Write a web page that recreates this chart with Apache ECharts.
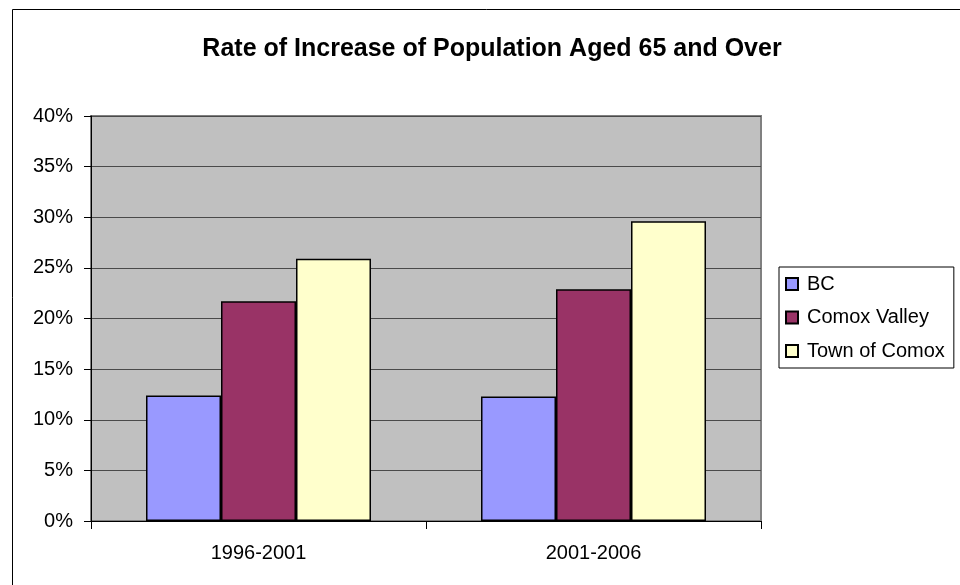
<!DOCTYPE html>
<html>
<head>
<meta charset="utf-8">
<script src="https://cdn.jsdelivr.net/npm/echarts@6/dist/echarts.min.js"></script>
<style>
  html, body { margin: 0; padding: 0; background: #fff; }
  #chart { width: 960px; height: 585px; }
</style>
</head>
<body>
<div id="chart"></div>
<script>
// Periods on the category axis
const periods = ['1996-2001', '2001-2006'];
// Rate of increase (%) of the population aged 65+, per area
const bcValues = [12.4, 12.3];
const comoxValleyValues = [21.7, 22.9];
const townOfComoxValues = [25.9, 29.6];
// Value axis settings (percent)
const yMin = 0;
const yMax = 40;
const yStep = 5;

const FONT = '"Liberation Sans", Arial, sans-serif';

const chart = echarts.init(document.getElementById('chart'), null, { renderer: 'canvas' });

const barBorder = { borderColor: '#000', borderWidth: 1.5 };

chart.setOption({
  animation: false,
  backgroundColor: '#fff',
  title: {
    text: 'Rate of Increase of Population Aged 65 and Over',
    left: 487,
    textAlign: 'center',
    top: 32,
    textStyle: { fontFamily: FONT, fontSize: 25, fontWeight: 'bold', color: '#000' }
  },
  legend: {
    orient: 'vertical',
    left: 779,
    top: 267,
    padding: [7, 9, 7, 6],
    itemGap: 13.5,
    itemWidth: 12,
    itemHeight: 12,
    icon: 'rect',
    borderColor: '#000',
    borderWidth: 1,
    backgroundColor: '#fff',
    textStyle: { fontFamily: FONT, fontSize: 20, color: '#000', padding: [0, 0, 0, 4] },
    data: ['BC', 'Comox Valley', 'Town of Comox']
  },
  grid: {
    left: 91,
    right: 199,
    top: 116,
    bottom: 64,
    show: true,
    backgroundColor: '#C0C0C0',
    borderColor: '#808080',
    borderWidth: 2
  },
  xAxis: {
    type: 'category',
    data: periods,
    axisLine: { show: true, lineStyle: { color: '#000', width: 1 } },
    axisTick: { show: true, length: 8, lineStyle: { color: '#000' } },
    axisLabel: { margin: 22, fontFamily: FONT, fontSize: 20, color: '#000' },
    splitLine: { show: false }
  },
  yAxis: {
    type: 'value',
    min: yMin,
    max: yMax,
    interval: yStep,
    axisLine: { show: true, lineStyle: { color: '#000', width: 1 } },
    axisTick: { show: true, length: 7, lineStyle: { color: '#000' } },
    axisLabel: { margin: 18, fontFamily: FONT, fontSize: 20, color: '#000', formatter: '{value}%' },
    splitLine: { show: true, lineStyle: { color: '#4a4a4a', width: 1.2 } }
  },
  series: [
    {
      name: 'BC', type: 'bar', data: bcValues, barWidth: 75, barGap: '0%',
      itemStyle: Object.assign({ color: '#9999FF' }, barBorder)
    },
    {
      name: 'Comox Valley', type: 'bar', data: comoxValleyValues, barWidth: 75, barGap: '0%',
      itemStyle: Object.assign({ color: '#993366' }, barBorder)
    },
    {
      name: 'Town of Comox', type: 'bar', data: townOfComoxValues, barWidth: 75, barGap: '0%',
      itemStyle: Object.assign({ color: '#FFFFCC' }, barBorder)
    }
  ],
  graphic: [
    {
      type: 'rect',
      silent: true,
      z: 100,
      shape: { x: 12.5, y: 9.5, width: 960, height: 600 },
      style: { fill: 'none', stroke: '#000', lineWidth: 1 }
    }
  ]
});
</script>
</body>
</html>
